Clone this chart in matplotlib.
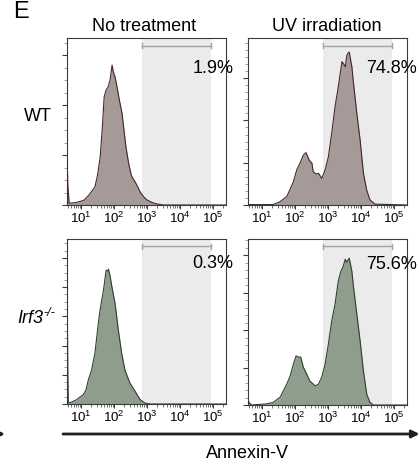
import matplotlib
matplotlib.use('Agg')
import matplotlib.pyplot as plt
import numpy as np
import matplotlib.transforms as mtransforms
from matplotlib.ticker import FixedLocator, LogLocator, NullFormatter, MultipleLocator, FixedFormatter

plt.rcParams['font.family'] = ['Liberation Sans', 'DejaVu Sans']
plt.rcParams['mathtext.fontset'] = 'custom'
plt.rcParams['mathtext.rm'] = 'Liberation Sans'
plt.rcParams['mathtext.it'] = 'Liberation Sans:italic'

# ---------------- data (log10 Annexin-V intensity, cell counts) ----------------
col_titles = ["No treatment", "UV irradiation"]
row_labels = ["WT", "Irf3"]
ko_superscript = "-/-"
percentages = ["1.9%", "74.8%", "0.3%", "75.6%"]
xtick_vals = [1e1, 1e2, 1e3, 1e4, 1e5]
xtick_labels = [r"$10^{1}$", r"$10^{2}$", r"$10^{3}$", r"$10^{4}$", r"$10^{5}$"]
gate_lo, gate_hi = 700, 89000

wt_nt_lx = [0.58, 0.60, 0.64, 0.72, 0.85, 0.97, 1.10, 1.24, 1.33, 1.42, 1.50, 1.58, 1.64,
            1.70, 1.76, 1.82, 1.88, 1.94, 1.98, 2.03, 2.09, 2.16, 2.24, 2.30, 2.36, 2.44,
            2.52, 2.58, 2.64, 2.72, 2.79, 2.90, 3.00, 3.15, 3.30, 3.50, 5.39]
wt_nt_counts = [90, 40, 4, 4, 5, 7, 10, 20, 28, 36, 60, 96, 150, 216, 230, 236, 250, 280,
                266, 256, 236, 210, 184, 150, 116, 84, 60, 52, 46, 36, 26, 16, 10, 5, 2, 0, 0]

wt_uv_lx = [0.585, 1.34, 1.55, 1.75, 1.95, 2.05, 2.15, 2.25, 2.33, 2.43, 2.51, 2.55, 2.64,
            2.71, 2.81, 2.91, 3.01, 3.11, 3.21, 3.31, 3.42, 3.46, 3.52, 3.57, 3.64, 3.72,
            3.77, 3.87, 3.97, 4.07, 4.17, 4.27, 4.42, 5.39]
wt_uv_counts = [1, 1, 8, 20, 55, 83, 99, 118, 124, 106, 99, 79, 73, 75, 63, 83, 114, 170,
                232, 280, 339, 335, 327, 355, 362, 327, 288, 217, 154, 75, 35, 12, 2, 0]

ko_nt_lx = [0.58, 0.60, 0.615, 0.72, 0.87, 0.97, 1.07, 1.15, 1.22, 1.32, 1.42, 1.48, 1.55,
            1.61, 1.68, 1.76, 1.80, 1.83, 1.88, 1.93, 2.03, 2.13, 2.23, 2.33, 2.48, 2.64,
            2.79, 2.94, 3.10, 5.39]
ko_nt_counts = [414, 103, 3, 7, 15, 24, 32, 48, 82, 116, 174, 233, 301, 345, 390, 458, 455,
                462, 438, 404, 345, 253, 174, 116, 72, 43, 15, 3, 0, 0]

ko_uv_lx = [0.585, 0.62, 0.69, 1.14, 1.34, 1.55, 1.75, 1.85, 1.95, 2.03, 2.10, 2.17, 2.25,
            2.35, 2.45, 2.61, 2.71, 2.81, 2.91, 3.01, 3.11, 3.21, 3.31, 3.38, 3.45, 3.52,
            3.57, 3.64, 3.72, 3.77, 3.87, 3.97, 4.07, 4.17, 4.27, 4.37, 5.39]
ko_uv_counts = [11, 5, 0, 3, 7, 21, 56, 77, 109, 131, 128, 128, 101, 83, 64, 51, 56, 75, 109,
                163, 224, 269, 331, 355, 368, 389, 381, 392, 357, 315, 243, 171, 91, 29, 7, 0, 0]

# ---------------- figure ----------------
W, H = 420, 465
fig = plt.figure(figsize=(W / 100, H / 100), dpi=100)


def ax_px(l, r, t, b):
    return fig.add_axes([l / W, 1 - b / H, (r - l) / W, (b - t) / H])


wt_fill, wt_edge = '#a69a99', '#45262a'
ko_fill, ko_edge = '#8f9d8d', '#2e4030'

panels = [
    dict(rect=(67, 226, 38, 205), lx=wt_nt_lx, c=wt_nt_counts, ymax=334, minor=25,
         fill=wt_fill, edge=wt_edge, pct=percentages[0], px=1.046, py=0.789),
    dict(rect=(248, 407, 38, 205), lx=wt_uv_lx, c=wt_uv_counts, ymax=395, minor=100 / 6,
         fill=wt_fill, edge=wt_edge, pct=percentages[1], px=1.065, py=0.789),
    dict(rect=(67, 226, 239, 404), lx=ko_nt_lx, c=ko_nt_counts, ymax=565, minor=25,
         fill=ko_fill, edge=ko_edge, pct=percentages[2], px=1.046, py=0.822),
    dict(rect=(248, 407, 239, 405), lx=ko_uv_lx, c=ko_uv_counts, ymax=443, minor=20,
         fill=ko_fill, edge=ko_edge, pct=percentages[3], px=1.065, py=0.822),
]

spine_col = '#3a3a3a'
for p in panels:
    ax = ax_px(*p['rect'])
    x = 10 ** np.array(p['lx'])
    y = np.array(p['c'], dtype=float)
    ax.set_xscale('log')
    ax.set_xlim(10 ** 0.575, 10 ** 5.39)
    ax.set_ylim(0, p['ymax'])
    ax.axvspan(gate_lo, gate_hi, color='#ebebeb', lw=0, zorder=0)
    ax.fill_between(x, y, 0, color=p['fill'], lw=0, zorder=2)
    ax.plot(x, y, color=p['edge'], lw=0.8, zorder=3)

    trans = mtransforms.blended_transform_factory(ax.transData, ax.transAxes)
    ax.plot([gate_lo, gate_hi], [0.955, 0.955], transform=trans, color='#a3a3a3',
            lw=1.0, zorder=4, clip_on=False)
    for gx in (gate_lo, gate_hi):
        ax.plot([gx, gx], [0.94, 0.97], transform=trans, color='#a3a3a3', lw=1.0,
                zorder=4, clip_on=False)

    ax.text(p['px'], p['py'], p['pct'], transform=ax.transAxes, ha='right',
            va='baseline', fontsize=13, zorder=6, clip_on=False)

    ax.xaxis.set_major_locator(FixedLocator(xtick_vals))
    ax.xaxis.set_major_formatter(FixedFormatter(xtick_labels))
    ax.xaxis.set_minor_locator(LogLocator(base=10, subs=np.arange(2, 10), numticks=20))
    ax.xaxis.set_minor_formatter(NullFormatter())
    ax.yaxis.set_major_locator(MultipleLocator(100))
    ax.yaxis.set_minor_locator(MultipleLocator(p['minor']))
    ax.yaxis.set_major_formatter(NullFormatter())
    ax.tick_params(axis='x', which='major', direction='out', length=3, width=0.7,
                   color=spine_col, labelsize=9.5, pad=1.5)
    ax.tick_params(axis='x', which='minor', direction='out', length=1.8, width=0.5,
                   color=spine_col)
    ax.tick_params(axis='y', which='major', direction='out', length=3.5, width=0.8,
                   color=spine_col)
    ax.tick_params(axis='y', which='minor', direction='out', length=2, width=0.5,
                   color='#777777')
    for s in ax.spines.values():
        s.set_color(spine_col)
        s.set_linewidth(0.8)
    ax.set_facecolor('white')


def ftext(x, y, s, **kw):
    fig.text(x / W, 1 - y / H, s, **kw)


ftext(13, 18.3, "E", fontsize=17, ha='left', va='baseline', fontweight='light')
ftext(144, 31, col_titles[0], fontsize=13, ha='center', va='baseline')
ftext(327, 31, col_titles[1], fontsize=13, ha='center', va='baseline')
ftext(37.5, 120.7, row_labels[0], fontsize=13, ha='center', va='baseline')
ftext(17, 322.7, row_labels[1], fontsize=13, ha='left', va='baseline', style='italic')
ftext(43.5, 315.5, ko_superscript, fontsize=9, ha='left', va='baseline', style='italic')
ftext(247.5, 458, "Annexin-V", fontsize=13, ha='center', va='baseline')

arrow_col = '#231f20'
fig.add_artist(matplotlib.patches.FancyArrowPatch(
    (63 / W, 1 - 434 / H), (419.5 / W, 1 - 434 / H), transform=fig.transFigure,
    arrowstyle='-|>', mutation_scale=11, color=arrow_col, lw=2.0, shrinkA=0, shrinkB=0))
fig.add_artist(matplotlib.patches.FancyArrowPatch(
    (-20 / W, 1 - 434 / H), (5 / W, 1 - 434 / H), transform=fig.transFigure,
    arrowstyle='-|>', mutation_scale=11, color=arrow_col, lw=2.0, shrinkA=0, shrinkB=0))

fig.savefig('out.png', dpi=100)
